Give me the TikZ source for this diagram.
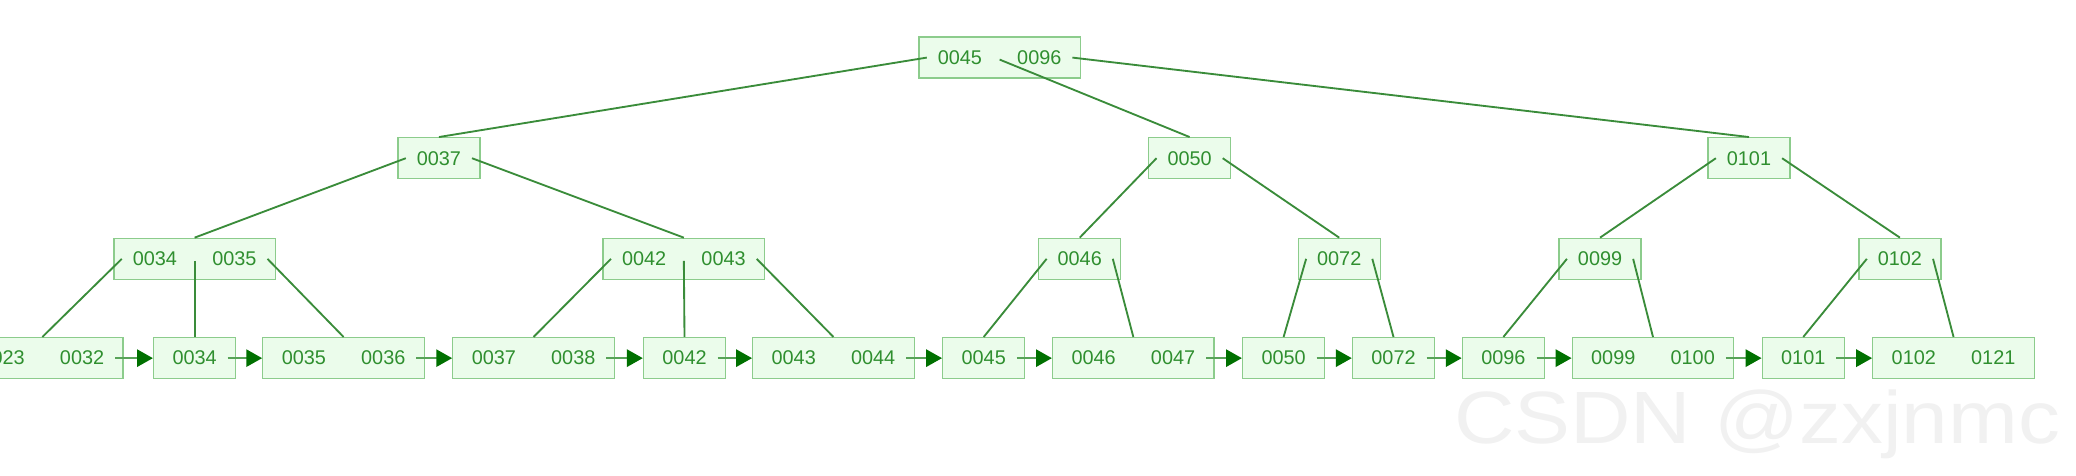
\documentclass[tikz,border=0pt]{standalone}
\usepackage{fontspec}
\setmainfont{Liberation Sans}
\usetikzlibrary{arrows.meta}
\definecolor{boxd}{HTML}{8CCC8C}
\definecolor{boxf}{HTML}{EBFCEB}
\definecolor{txt}{HTML}{2F8F2F}
\definecolor{edgec}{HTML}{3A8C3A}
\definecolor{arrc}{HTML}{007000}
\definecolor{arrl}{HTML}{58A358}
\definecolor{wmc}{HTML}{F1F1F1}
\newcommand\mkdbl[5]{%
  \node[dbox] (#1) at (#2,#3) {};
  \node[key] (#1-a) at (#2-30,#3) {#4};
  \node[key] (#1-b) at (#2+30,#3) {#5};
  \coordinate (#1-l) at (#2-55,#3);
  \coordinate (#1-m) at (#2,#3+1.5);
  \coordinate (#1-r) at (#2+55,#3);}
\newcommand\mksgl[4]{%
  \node[sbox] (#1) at (#2,#3) {};
  \node[key] (#1-a) at (#2,#3) {#4};
  \coordinate (#1-l) at (#2-25,#3);
  \coordinate (#1-r) at (#2+25,#3);}
\begin{document}
\begin{tikzpicture}[x=1pt,y=-1pt,
 sbox/.style={draw=boxd, fill=boxf, line width=1pt, minimum width=62pt, minimum height=31pt, inner sep=0pt},
 dbox/.style={sbox, minimum width=122pt},
 key/.style={text=txt, font=\fontsize{15}{15}\selectfont, inner sep=0pt},
 tedge/.style={draw=edgec, line width=1.4pt},
 link/.style={draw=arrl, line width=1.7pt, -{Triangle[length=12pt,width=13pt,fill=arrc,color=arrc]}},
]
\useasboundingbox (0,0) rectangle (1568,359.5);
\node[anchor=base west, text=wmc, inner sep=0pt, font=\fontsize{56}{56}\selectfont] (wm) at (1098,335) {\scalebox{1.13}[1]{CSDN @zxjnmc}};

% root
\mkdbl{root}{755}{43.5}{0045}{0096}
% level 2
\mksgl{a}{331.5}{119.5}{0037}
\mksgl{b}{898.5}{119.5}{0050}
\mksgl{c}{1321}{119.5}{0101}
% level 3
\mkdbl{aa}{147}{195.5}{0034}{0035}
\mkdbl{ab}{516.5}{195.5}{0042}{0043}
\mksgl{ba}{815.5}{195.5}{0046}
\mksgl{bb}{1011.5}{195.5}{0072}
\mksgl{ca}{1208.5}{195.5}{0099}
\mksgl{cb}{1435}{195.5}{0102}
% leaves
\mkdbl{l1}{32}{270.5}{0023}{0032}
\mksgl{l2}{147}{270.5}{0034}
\mkdbl{l3}{259.5}{270.5}{0035}{0036}
\mkdbl{l4}{403}{270.5}{0037}{0038}
\mksgl{l5}{517}{270.5}{0042}
\mkdbl{l6}{629.5}{270.5}{0043}{0044}
\mksgl{l7}{743}{270.5}{0045}
\mkdbl{l8}{856}{270.5}{0046}{0047}
\mksgl{l9}{969.5}{270.5}{0050}
\mksgl{l10}{1052.5}{270.5}{0072}
\mksgl{l11}{1135.5}{270.5}{0096}
\mkdbl{l12}{1248.5}{270.5}{0099}{0100}
\mksgl{l13}{1362}{270.5}{0101}
\mkdbl{l14}{1475.5}{270.5}{0102}{0121}

% tree edges
\draw[tedge] (root-l) -- (a.north);
\draw[tedge] (root-m) -- (b.north);
\draw[tedge] (root-r) -- (c.north);
\draw[tedge] (a-l) -- (aa.north);
\draw[tedge] (a-r) -- (ab.north);
\draw[tedge] (b-l) -- (ba.north);
\draw[tedge] (b-r) -- (bb.north);
\draw[tedge] (c-l) -- (ca.north);
\draw[tedge] (c-r) -- (cb.north);
\draw[tedge] (aa-l) -- (l1.north);
\draw[tedge] (aa-m) -- (l2.north);
\draw[tedge] (aa-r) -- (l3.north);
\draw[tedge] (ab-l) -- (l4.north);
\draw[tedge] (ab-m) -- (l5.north);
\draw[tedge] (ab-r) -- (l6.north);
\draw[tedge] (ba-l) -- (l7.north);
\draw[tedge] (ba-r) -- (l8.north);
\draw[tedge] (bb-l) -- (l9.north);
\draw[tedge] (bb-r) -- (l10.north);
\draw[tedge] (ca-l) -- (l11.north);
\draw[tedge] (ca-r) -- (l12.north);
\draw[tedge] (cb-l) -- (l13.north);
\draw[tedge] (cb-r) -- (l14.north);

% leaf links
\draw[link] (l1-r) -- (l2.west);
\draw[link] (l2-r) -- (l3.west);
\draw[link] (l3-r) -- (l4.west);
\draw[link] (l4-r) -- (l5.west);
\draw[link] (l5-r) -- (l6.west);
\draw[link] (l6-r) -- (l7.west);
\draw[link] (l7-r) -- (l8.west);
\draw[link] (l8-r) -- (l9.west);
\draw[link] (l9-r) -- (l10.west);
\draw[link] (l10-r) -- (l11.west);
\draw[link] (l11-r) -- (l12.west);
\draw[link] (l12-r) -- (l13.west);
\draw[link] (l13-r) -- (l14.west);
\end{tikzpicture}
\end{document}
